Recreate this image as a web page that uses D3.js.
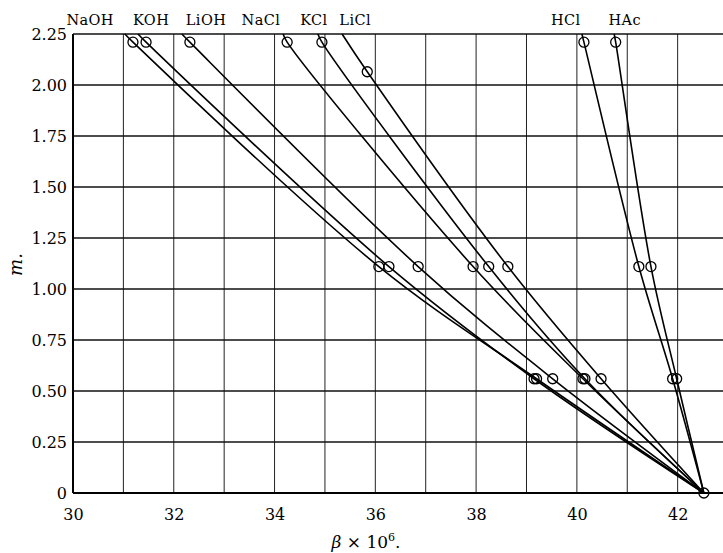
<!DOCTYPE html>
<html>
<head>
<meta charset="utf-8">
<script src="https://cdn.jsdelivr.net/npm/d3@7"></script>
<style>
  body { margin: 0; background: #fff; }
  svg { display: block; }
  text { font-family: "DejaVu Serif", "Liberation Serif", serif; fill: #000; }
</style>
</head>
<body>
<div id="chart"></div>
<script>

// ---------- data ----------
var salts = ["NaOH", "KOH", "LiOH", "NaCl", "KCl", "LiCl", "HCl", "HAc"];

// label anchor (beta units) for the names across the top
var labelAt = [30.34, 31.55, 32.64, 33.73, 34.78, 35.6, 39.78, 40.95];

// molalities of measured points (top, middle, low, pure water)
var mTop = [2.21, 2.21, 2.21, 2.21, 2.21, 2.065, 2.21, 2.21];
var mMid = 1.11, mLow = 0.56, mZero = 0;

// beta x 10^6
var betaTop  = [31.19, 31.45, 32.32, 34.25, 34.94, 35.84, 40.14, 40.77];
var betaMid  = [36.07, 36.27, 36.85, 37.94, 38.25, 38.63, 41.23, 41.47];
var betaLow  = [39.20, 39.15, 39.52, 40.12, 40.16, 40.48, 41.90, 41.98];
var betaWater = 42.52;

// where the drawn line meets the m = 2.25 edge
var betaEdge = [31.03, 31.29, 32.16, 34.17, 34.86, 35.34, 40.10, 40.74];

var xTicks = [30, 32, 34, 36, 38, 40, 42];
var yTicks = [0, 0.25, 0.5, 0.75, 1.0, 1.25, 1.5, 1.75, 2.0, 2.25];
var xGrid  = [31, 32, 33, 34, 35, 36, 37, 38, 39, 40, 41, 42];


// ---------- svg ----------
var W = 723, H = 553;
var margin = { top: 34, right: 0, bottom: 60, left: 73 };

var svg = d3.select("#chart").append("svg")
    .attr("width", W).attr("height", H);

var x = d3.scaleLinear().domain([30, 42.9]).range([margin.left, W - margin.right]);
var y = d3.scaleLinear().domain([0, 2.25]).range([H - margin.bottom, margin.top]);

// grid
svg.append("g").selectAll("line")
    .data(xGrid).enter().append("line")
    .attr("x1", d => x(d)).attr("x2", d => x(d))
    .attr("y1", y(0)).attr("y2", y(2.25))
    .attr("stroke", "#222").attr("stroke-width", 1);

svg.append("g").selectAll("line")
    .data(yTicks.filter(d => d > 0)).enter().append("line")
    .attr("x1", x(30)).attr("x2", W)
    .attr("y1", d => y(d)).attr("y2", d => y(d))
    .attr("stroke", "#111").attr("stroke-width", d => d === 2.25 ? 1.6 : 1.3);

// axis lines
svg.append("line")
    .attr("x1", x(30)).attr("x2", W).attr("y1", y(0)).attr("y2", y(0))
    .attr("stroke", "#000").attr("stroke-width", 2);
svg.append("line")
    .attr("x1", x(30)).attr("x2", x(30)).attr("y1", y(0)).attr("y2", y(2.25))
    .attr("stroke", "#000").attr("stroke-width", 2);

// tick labels
var xAxis = svg.append("g")
    .attr("transform", "translate(0," + y(0) + ")")
    .call(d3.axisBottom(x).tickValues(xTicks).tickSize(0).tickPadding(16).tickFormat(d3.format("d")));
var yAxis = svg.append("g")
    .attr("transform", "translate(" + (x(30) - 5) + ",0)")
    .call(d3.axisLeft(y).tickValues(yTicks).tickSize(0).tickPadding(1)
      .tickFormat(d => d === 0 ? "0" : d3.format(".2f")(d)));
[xAxis, yAxis].forEach(function (a) {
  a.select(".domain").remove();
  a.selectAll("text").style("font-family", "DejaVu Serif, serif")
    .style("font-size", "16px").attr("fill", "#000");
});

// axis titles
svg.append("text")
    .attr("transform", "translate(22," + y(1.12) + ") rotate(-90)")
    .attr("text-anchor", "middle")
    .style("font-size", "18px").style("font-style", "italic")
    .text("m.");

var xt = svg.append("text")
    .attr("x", 366).attr("y", 548)
    .attr("text-anchor", "middle")
    .style("font-size", "17px");
xt.append("tspan").style("font-style", "italic").text("β");
xt.append("tspan").text(" × 10");
xt.append("tspan").attr("dy", -7).style("font-size", "11px").text("6");
xt.append("tspan").attr("dy", 7).text(".");

// salt names
svg.append("g").selectAll("text")
    .data(salts).enter().append("text")
    .attr("x", (d, i) => x(labelAt[i]))
    .attr("y", 25)
    .attr("text-anchor", "middle")
    .style("font-size", "14.5px")
    .style("letter-spacing", "0.4px")
    .text(d => d);

// curves
var line = d3.line()
    .x(d => x(d[0])).y(d => y(d[1]))
    .curve(d3.curveCatmullRom.alpha(0.5));

var curves = salts.map(function (s, i) {
  return [
    [betaEdge[i], 2.25],
    [betaTop[i], mTop[i]],
    [betaMid[i], mMid],
    [betaLow[i], mLow],
    [betaWater, mZero]
  ];
});

svg.append("g").selectAll("path")
    .data(curves).enter().append("path")
    .attr("d", line)
    .attr("fill", "none")
    .attr("stroke", "#000")
    .attr("stroke-width", 1.6);

// measured points
var pts = [];
salts.forEach(function (s, i) {
  pts.push([betaTop[i], mTop[i]], [betaMid[i], mMid], [betaLow[i], mLow]);
});
pts.push([betaWater, mZero]);

svg.append("g").selectAll("circle")
    .data(pts).enter().append("circle")
    .attr("cx", d => x(d[0])).attr("cy", d => y(d[1]))
    .attr("r", 5)
    .attr("fill", "none")
    .attr("stroke", "#000")
    .attr("stroke-width", 1.3);

</script>
</body>
</html>
